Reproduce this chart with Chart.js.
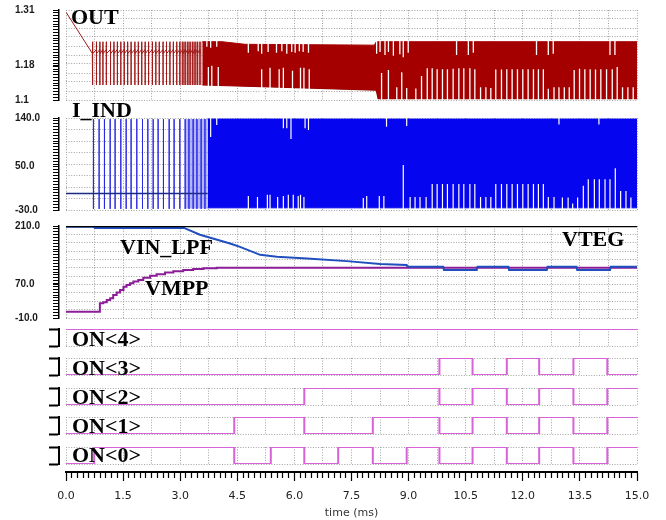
<!DOCTYPE html>
<html>
<head>
<meta charset="utf-8">
<title>Transient waveforms</title>
<script src="https://cdn.jsdelivr.net/npm/chart.js@4.4.1/dist/chart.umd.min.js"></script>
<style>
  html, body { margin:0; padding:0; background:#fff; }
  #wrap { position:relative; width:666px; height:520px; overflow:hidden; background:#fff; }
  #wrap canvas { position:absolute; left:0; }
  .lbl { position:absolute; font-family:"Liberation Serif","Times New Roman",serif; font-weight:bold;
         font-size:22px; line-height:22px; color:#000; white-space:nowrap; }
</style>
</head>
<body>
<div id="wrap"></div>
<script>
// ---------------- values ----------------
const xTickLabels = ['0.0','1.5','3.0','4.5','6.0','7.5','9.0','10.5','12.0','13.5','15.0'];
const xTitle = 'time (ms)';

// OUT
const outTickVals = [1.31, 1.18, 1.1];
const outTickText = ['1.31', '1.18', '1.1'];
const outStart = [[0, 1.305], [0.69, 1.209]];
const outPulseTimes = [0.70,0.80,0.89,0.97,1.06,1.17,1.26,1.35,1.44,1.53,1.62,1.71,1.81,1.90,1.99,2.08,2.17,
  2.27,2.36,2.45,2.55,2.64,2.73,2.82,2.91,2.99,3.07,3.13,3.20,3.26,3.33,3.39,3.45,3.52];
const outPulseLevels = [1.218, 1.236, 1.135, 1.208];
const outLight = [[3.0, 1.236], [3.58, 1.236]];
const outLightBase = 1.135;
const outUpper = [[3.58,1.236],[4.1,1.236],[4.7,1.230],[8.1,1.228],[8.15,1.236],[15,1.236]];
const outLower = [[3.58,1.135],[5.6,1.130],[8.15,1.123],[8.2,1.103],[15,1.103]];
const outGapsBottom = [
  [3.74,1.177],[3.83,1.180],[4.00,1.177],
  [5.14,1.172],[5.36,1.175],[5.60,1.172],[5.71,1.175],[5.95,1.168],[6.16,1.175],[6.25,1.175],[6.39,1.172],
  [8.29,1.163],[8.47,1.170],[8.69,1.130],[8.82,1.165],[8.95,1.128],[9.19,1.127],[9.34,1.156],
  [9.49,1.174],[9.62,1.174],[9.75,1.172],[9.89,1.172],[10.02,1.172],[10.17,1.173],[10.32,1.174],[10.45,1.174],[10.61,1.174],[10.74,1.172],
  [10.89,1.130],[11.03,1.130],[11.16,1.128],
  [11.29,1.171],[11.44,1.171],[11.58,1.172],[11.72,1.172],[11.86,1.172],[12.00,1.172],[12.14,1.172],[12.28,1.172],[12.41,1.172],[12.54,1.172],
  [12.67,1.126],[12.82,1.130],[12.95,1.130],[13.09,1.130],[13.22,1.130],
  [13.35,1.170],[13.49,1.173],[13.63,1.172],[13.77,1.172],[13.91,1.171],[14.05,1.172],[14.20,1.172],[14.35,1.172],[14.48,1.177],
  [14.62,1.130],[14.76,1.130],[14.90,1.130]
];
const outGapsTop = [
  [3.70,1.224],[3.80,1.222],[3.96,1.224],
  [4.79,1.210],[5.05,1.214],[5.14,1.208],[5.31,1.212],[5.53,1.210],[5.67,1.214],[5.80,1.208],[5.93,1.212],[6.02,1.210],[6.13,1.214],[6.23,1.212],[6.37,1.210],
  [8.16,1.208],[8.25,1.212],[8.38,1.205],[8.47,1.212],[8.60,1.203],[8.77,1.207],[8.86,1.200],[8.99,1.210],
  [10.26,1.205],[10.57,1.205],[10.70,1.210],[12.36,1.205],[12.67,1.205],[12.80,1.208],[14.29,1.205],[14.42,1.205]
];

// I_IND
const iTickVals = [140, 50, -30];
const iTickText = ['140.0', '50.0', '-30.0'];
const iBaseline = [[0,0.5],[3.72,0.5]];
const iPulseStart = [[0,0.5]];
const iPulseTimes = [0.72,0.87,1.01,1.16,1.29,1.44,1.58,1.71,1.86,2.01,2.15,2.29,2.42,2.56,2.71,2.84,2.99,
  3.13,3.23,3.34,3.44,3.55,3.65];
const iPulseLevels = [0.5, 138, -28, 0.5];
const iLight = [[3.13,138],[3.72,138]];
const iLightBase = -27;
const iUpper = [[3.72,138],[15,138]];
const iLower = [[3.72,-26],[15,-26]];
const iGapsBottom = [
  [4.79,-4],[5.03,-6],[5.29,-2],[5.36,-2],[5.56,-6],[5.71,-4],[5.84,-2],[5.97,-2],[6.10,-4],[6.16,-2],[6.25,-6],
  [7.81,-8],[7.90,-4],[8.23,-4],[8.35,-4],[8.86,53],[9.04,-6],[9.17,-6],[9.30,-6],[9.46,-6],
  [9.62,18],[9.75,18],[9.89,18],[10.02,18],[10.17,18],[10.32,18],[10.45,18],[10.61,18],[10.74,18],
  [10.89,-6],[11.03,-6],[11.16,-6],
  [11.29,18],[11.44,18],[11.58,18],[11.72,18],[11.86,18],[12.00,18],[12.14,18],[12.28,18],[12.41,18],[12.54,18],
  [12.67,-6],[12.82,-6],
  [13.04,-7],[13.19,-7],[13.31,-18],[13.44,-7],[13.59,15],[13.72,27],[13.88,27],[14.01,27],[14.16,27],[14.29,27],
  [14.43,47],[14.57,5],[14.71,5],[14.84,-7]
];
const iGapsTop = [[3.80,105],[3.96,127],[5.71,121],[5.80,121],[5.91,101],[6.28,121],[6.37,118],[8.42,124],[8.95,125],
  [12.95,128],[14.0,128]];

// VIN_LPF / VMPP / VTEG
const vTickVals = [210, 70, -10];
const vTickText = ['210.0', '70.0', '-10.0'];
const vteg = [[0,210],[15,210]];
const vinLpf = [[0,208.5],[0.72,208.5],[0.76,205.5],[3.1,205.5],[3.52,189],[4.31,168],[4.57,160],[5.10,141],
  [5.54,136.5],[6.33,132.5],[7.38,126],[8.25,119],[8.95,116.5],[8.97,112.7],[9.91,112.7],[9.93,104.8],
  [10.79,104.8],[10.81,112.7],[11.62,112.7],[11.64,104.8],[12.63,104.8],[12.65,112.7],[13.41,112.7],
  [13.43,104.8],[14.29,104.8],[14.31,112.7],[15,112.7]];
const vmpp = [[0,5],[0.83,5],[0.89,25],[0.98,27.5],[1.07,33],[1.16,37],[1.24,45],[1.33,51],[1.42,57],
  [1.51,65],[1.59,69],[1.68,73],[1.77,77],[1.90,81],[2.03,86],[2.21,91],[2.38,94.5],[2.60,99],[2.82,102],
  [3.08,105],[3.34,107],[3.61,109],[3.96,110],[15,110]];

// digital ON<4..0>
const onNames = ['ON<4>','ON<3>','ON<2>','ON<1>','ON<0>'];
const onInit = [1, 0, 0, 0, 0];
const onToggles = [
  [],
  [9.81,10.68,11.58,12.43,13.33,14.22],
  [6.26,9.81,10.68,11.58,12.43,13.33,14.22],
  [4.42,6.26,8.06,9.81,10.68,11.58,12.43,13.33,14.22],
  [0.74,4.42,5.38,6.26,7.15,8.06,8.95,9.81,10.68,11.58,12.43,13.33,14.22]
];

// ---------------- layout / style ----------------
const GRID_COLOR = '#a2a2a2';
const GRID_DASH = [1, 1.6];
const TICK_FONT = {family:'"Liberation Sans", Arial, sans-serif', size:10, weight:'bold'};
const X_FONT = {family:'"DejaVu Sans", sans-serif', size:11};
const labelLayout = [
  ['OUT', 71, 24.5], ['I_IND', 72, 117], ['VIN_LPF', 120, 254], ['VMPP', 145, 295], ['VTEG', 562, 246.5],
  ['ON<4>', 72, 346], ['ON<3>', 72, 375], ['ON<2>', 72, 404], ['ON<1>', 72, 433], ['ON<0>', 72, 462.5]
];
const onAreas = [[329,346],[358,375],[388,405],[417,434],[447,464]];

const wrap = document.getElementById('wrap');
const pts = a => a.map(p => ({x:p[0], y:p[1]}));
function pulsePath(start, times, lv) {
  const d = pts(start);
  for (const t of times) d.push({x:t,y:lv[0]},{x:t,y:lv[1]},{x:t,y:lv[2]},{x:t,y:lv[3]});
  return d;
}
function segs(list, from) {
  const d = [];
  for (const [t, v] of list) d.push({x:t,y:from},{x:t,y:v},{x:t,y:null});
  return d;
}
function steps(init, toggles) {
  let v = init; const d = [{x:0,y:v}];
  for (const t of toggles) { v = 1 - v; d.push({x:t,y:v}); }
  d.push({x:15,y:v});
  return d;
}

function panel(o) {
  const padTop = 8, extra = o.xAxis ? 56 : 8;
  const cTop = o.top - padTop;
  const h = (o.bottom - o.top) + padTop + extra;
  const cv = document.createElement('canvas');
  cv.width = 666; cv.height = h;
  cv.style.top = cTop + 'px'; cv.style.width = '666px'; cv.style.height = h + 'px';
  wrap.appendChild(cv);
  const step = (o.yMax - o.yMin) / o.gridN;
  const scales = {
    x: { type:'linear', min:0, max:15, position:'bottom', weight:0,
      grid:{color:GRID_COLOR, lineWidth:1, drawTicks:false}, border:{display:false, dash:GRID_DASH},
      ticks:{display:false},
      afterBuildTicks: s => { const t = []; for (let i = 0; i <= 20; i++) t.push({value:i*0.75}); s.ticks = t; },
      afterFit: s => { s.height = 0; } },
    y: { type:'linear', min:o.yMin, max:o.yMax, position:'left', weight:0,
      grid:{color:GRID_COLOR, lineWidth:1, drawTicks:false}, border:{display:false, dash:GRID_DASH},
      ticks:{display:false},
      afterBuildTicks: s => { const t = []; for (let i = 0; i <= o.gridN; i++) t.push({value:o.yMin + i*step}); s.ticks = t; },
      afterFit: s => { s.width = 0; } },
    ySpace: { type:'linear', min:0, max:1, position:'left', weight:1,
      grid:{display:false}, border:{display:false}, ticks:{display:false},
      afterFit: s => { s.width = 7; } },
    yLadder: { type:'linear', min:o.yMin, max:o.yMax, position:'left', weight:2,
      grid:{display:true, drawOnChartArea:false, drawTicks:true, tickLength:o.digital ? 10 : 6,
            tickWidth:o.digital ? 2 : 1, tickColor:'#000', color:'#000'},
      border:{display:true, color:'#000', width:o.digital ? 2 : 1.5},
      ticks:{display:!o.digital, autoSkip:false, crossAlign:'far', padding:0, font:TICK_FONT, color:'#1a1a1a',
             callback:(v, i, t) => (t[i] && t[i].lbl) || ''},
      afterBuildTicks: s => {
        const t = [];
        if (o.digital) { t.push({value:0}, {value:1}); }
        else {
          const n = 32;
          for (let i = 0; i <= n; i++) t.push({value:o.yMin + i*(o.yMax - o.yMin)/n});
          o.tickVals.forEach((v, k) => t.push({value:v, lbl:o.tickText[k]}));
        }
        s.ticks = t;
      },
      afterFit: s => { s.width = 44; } }
  };
  if (o.xAxis) {
    scales.xSpace = { type:'linear', min:0, max:15, position:'bottom', weight:1,
      grid:{display:false}, border:{display:false}, ticks:{display:false},
      afterFit: s => { s.height = 8; } };
    scales.xAxis = { type:'linear', min:0, max:15, position:'bottom', weight:2,
      grid:{display:true, drawOnChartArea:false, drawTicks:true, tickLength:9, tickWidth:1.2, tickColor:'#000',
            tickBorderDash: c => (c.index % 10 === 0 ? [] : [5, 30])},
      border:{display:true, color:'#000', width:2},
      ticks:{autoSkip:false, maxRotation:0, minRotation:0, padding:9, font:X_FONT, color:'#222',
             callback:(v, i) => (i % 10 === 0 ? xTickLabels[i/10] : '')},
      title:{display:true, text:xTitle, font:X_FONT, color:'#333', padding:{top:0, bottom:0}},
      afterBuildTicks: s => { const t = []; for (let i = 0; i <= 100; i++) t.push({value:i*0.15}); s.ticks = t; },
      afterFit: s => { s.height = 48; } };
  }
  o.datasets.forEach(d => { d.pointRadius = 0; d.tension = 0; d.xAxisID = 'x'; d.yAxisID = 'y'; });
  new Chart(cv, {
    type:'line',
    data:{datasets:o.datasets},
    options:{
      responsive:false, maintainAspectRatio:false, animation:false, devicePixelRatio:1, events:[],
      layout:{padding:{left:15, right:29, top:padTop, bottom:o.xAxis ? 0 : 8}},
      plugins:{legend:{display:false}, tooltip:{enabled:false}},
      scales
    }
  });
}

// OUT panel
panel({ top:10, bottom:100, yMin:1.1, yMax:1.31, gridN:10, tickVals:outTickVals, tickText:outTickText,
  datasets:[
    {data:pts(outLight), fill:{value:outLightBase}, backgroundColor:'rgba(214,120,120,0.55)', borderWidth:0, order:9},
    {data:pts(outUpper), fill:'+1', backgroundColor:'#a50000', borderColor:'#a50000', borderWidth:1, order:8},
    {data:pts(outLower), borderColor:'#8c0000', borderWidth:1.2, order:8},
    {data:segs(outGapsBottom, 1.1), borderColor:'#ffffff', borderWidth:1.3, order:4},
    {data:segs(outGapsTop, 1.24), borderColor:'#ffffff', borderWidth:1.3, order:4},
    {data:pulsePath(outStart, outPulseTimes, outPulseLevels), borderColor:'#a01818', borderWidth:1, order:2}
  ]});

// I_IND panel
panel({ top:118, bottom:210, yMin:-30, yMax:140, gridN:8, tickVals:iTickVals, tickText:iTickText,
  datasets:[
    {data:pts(iLight), fill:{value:iLightBase}, backgroundColor:'rgba(120,120,250,0.55)', borderWidth:0, order:9},
    {data:pts(iUpper), fill:'+1', backgroundColor:'#0505f0', borderColor:'#0505f0', borderWidth:1, order:8},
    {data:pts(iLower), borderColor:'#0505f0', borderWidth:1, order:8},
    {data:segs(iGapsBottom, -30), borderColor:'#ffffff', borderWidth:1.2, order:4},
    {data:segs(iGapsTop, 140), borderColor:'#ffffff', borderWidth:1.2, order:4},
    {data:pulsePath(iPulseStart, iPulseTimes, iPulseLevels), borderColor:'#2828e6', borderWidth:1, order:2},
    {data:pts(iBaseline), borderColor:'#1c2c86', borderWidth:1.6, order:1}
  ]});

// VIN panel
panel({ top:226, bottom:318, yMin:-10, yMax:210, gridN:11, tickVals:vTickVals, tickText:vTickText,
  datasets:[
    {data:pts(vmpp), borderColor:'#8c1c98', borderWidth:2, stepped:true, order:3},
    {data:pts(vinLpf), borderColor:'#1f4fbf', borderWidth:2, order:2},
    {data:pts(vteg), borderColor:'#000000', borderWidth:2.5, order:1}
  ]});

// digital panels
onNames.forEach((name, k) => {
  panel({ top:onAreas[k][0], bottom:onAreas[k][1], yMin:0, yMax:1, gridN:1, digital:true, xAxis:k === 4,
    datasets:[{label:name, data:steps(onInit[k], onToggles[k]), borderColor:'#d862d8', borderWidth:2, stepped:true}]
  });
});

// panel names
labelLayout.forEach(([txt, x, base]) => {
  const d = document.createElement('div');
  d.className = 'lbl';
  d.textContent = txt;
  d.style.left = x + 'px';
  d.style.top = (base - 18.4) + 'px';
  wrap.appendChild(d);
});
</script>
</body>
</html>
